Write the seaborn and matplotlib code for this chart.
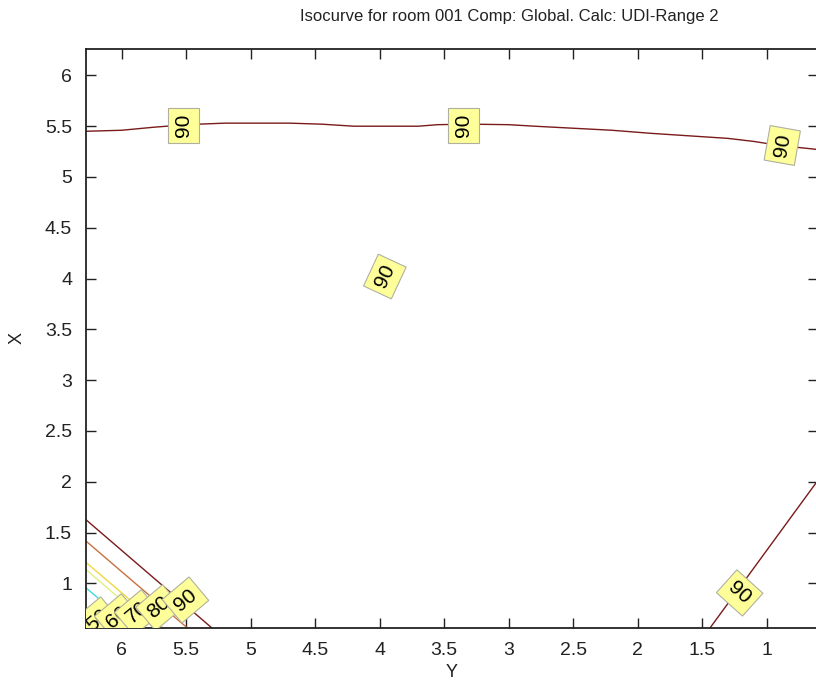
import matplotlib
matplotlib.use("Agg")
import matplotlib.pyplot as plt
import numpy as np
import pandas as pd
import seaborn as sns

# --- isolines (horizontal axis = Y, vertical axis = X) ---------------------
# 90 isoline along the top of the room
iso90_top_Y = [6.28, 6.00, 5.75, 5.50, 5.20, 4.70, 4.45, 4.20, 3.70, 3.55,
               3.30, 3.00, 2.80, 2.50, 2.20, 1.90, 1.60, 1.30, 1.10, 0.90, 0.60]
iso90_top_X = [5.45, 5.46, 5.49, 5.515, 5.53, 5.53, 5.52, 5.50, 5.50, 5.515,
               5.52, 5.515, 5.50, 5.48, 5.46, 5.43, 5.405, 5.38, 5.35, 5.31, 5.27]

# 90 isoline in the lower right corner
iso90_br_Y = [1.44, 0.60]
iso90_br_X = [0.56, 2.02]

# isolines in the lower left corner
corner_levels = [50, 60, 70, 80, 90]
corner_Y0 = [6.28, 6.28, 6.28, 6.28, 6.28]
corner_X0 = [0.96, 1.14, 1.21, 1.42, 1.63]
corner_Y1 = [5.91, 5.75, 5.68, 5.49, 5.30]
corner_X1 = [0.56, 0.56, 0.56, 0.56, 0.56]

# contour labels
label_text = ["90", "90", "90", "90", "90", "50", "60", "70", "80", "90"]
label_Y = [5.52, 3.35, 0.88, 3.96, 1.21, 6.19, 6.03, 5.875, 5.71, 5.505]
label_X = [5.51, 5.51, 5.31, 4.02, 0.905, 0.64, 0.67, 0.71, 0.76, 0.836]
label_rot = [90, 90, 80, 65, -42, 40, 40, 40, 40, 40]

# axis ticks
tick_vals = [1, 1.5, 2, 2.5, 3, 3.5, 4, 4.5, 5, 5.5, 6]
tick_text = ["1", "1.5", "2", "2.5", "3", "3.5", "4", "4.5", "5", "5.5", "6"]

title = "Isocurve for room 001 Comp: Global. Calc: UDI-Range 2"

# --- assemble the long table of line segments -----------------------------
rows = []
for y, x in zip(iso90_top_Y, iso90_top_X):
    rows.append(dict(Y=y, X=x, level=90, seg="top"))
for y, x in zip(iso90_br_Y, iso90_br_X):
    rows.append(dict(Y=y, X=x, level=90, seg="br"))
for lev, y0, x0, y1, x1 in zip(corner_levels, corner_Y0, corner_X0, corner_Y1, corner_X1):
    rows.append(dict(Y=y0, X=x0, level=lev, seg=f"c{lev}"))
    rows.append(dict(Y=y1, X=x1, level=lev, seg=f"c{lev}"))
df = pd.DataFrame(rows)

palette = {50: "#40d8e0", 60: "#e0f080", 70: "#f0d840", 80: "#c87040", 90: "#7a1a1a"}

sns.set_style("ticks")
plt.rcParams["font.family"] = ["Liberation Sans", "DejaVu Sans"]

fig = plt.figure(figsize=(8.16, 6.84), dpi=100)
fig.patch.set_facecolor("white")
ax = fig.add_axes([86 / 816, (684 - 628) / 684, (818 - 86) / 816, (628 - 49) / 684])

sns.lineplot(data=df, x="Y", y="X", hue="level", units="seg", estimator=None,
             sort=False, palette=palette, legend=False, linewidth=1.0, ax=ax)

for i, (t, y, x, r) in enumerate(zip(label_text, label_Y, label_X, label_rot)):
    ax.text(y, x, t, rotation=r, ha="center", va="center", fontsize=15,
            color="black", zorder=5 + i, clip_on=True,
            bbox=dict(boxstyle="square,pad=0.28", fc="#ffff99", ec="#b0b0a0", lw=0.8))

ax.set_xlim(6.276, 0.603)
ax.set_ylim(0.56, 6.26)
ax.set_xticks(tick_vals)
ax.set_xticklabels(tick_text)
ax.set_yticks(tick_vals)
ax.set_yticklabels(tick_text)
ax.tick_params(direction="in", length=7, width=1, top=True, right=True,
               labelsize=14, pad=10, colors="#222222")
for s in ax.spines.values():
    s.set_visible(True)
    s.set_linewidth(1.3)
    s.set_color("#222222")

ax.set_xlabel("Y", fontsize=13, labelpad=4, color="#222222")
ax.set_ylabel("X", fontsize=13, labelpad=14, color="#222222")
ax.set_title(title, fontsize=12, x=(509 - 86) / 732, pad=20, color="#222222")

fig.savefig("out.png", dpi=100, facecolor="white")
